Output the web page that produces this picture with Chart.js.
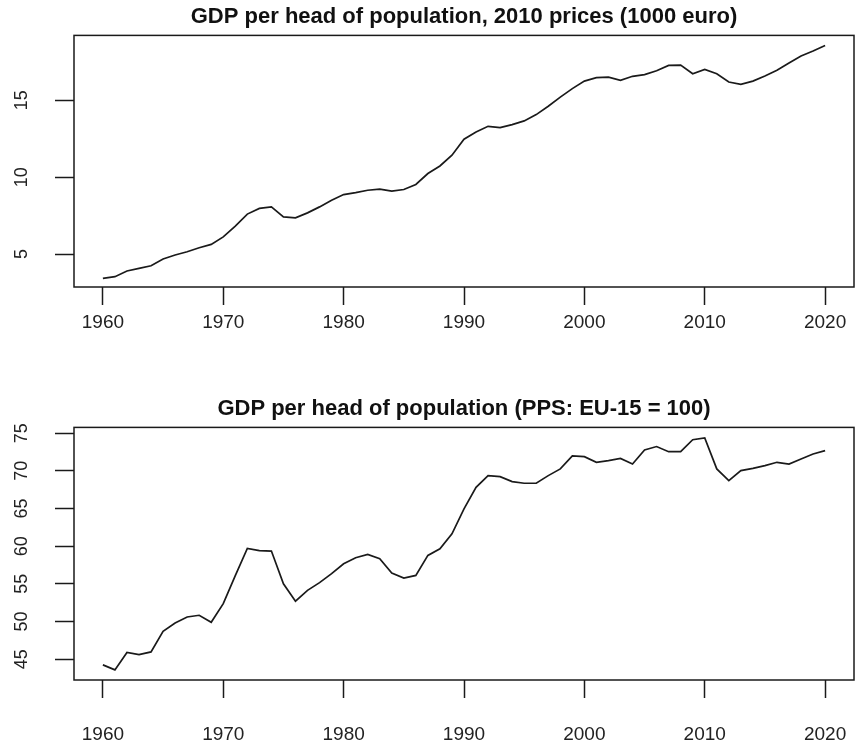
<!DOCTYPE html>
<html>
<head>
<meta charset="utf-8">
<script src="https://cdn.jsdelivr.net/npm/chart.js@4"></script>
<style>
	html, body { margin: 0; background: #fff; overflow: hidden; }
	.panel { position: absolute; left: 0; width: 855px; }
	.panel canvas { display: block; }
	#top-panel { top: 0; height: 370px; }
	#bottom-panel { top: 370px; height: 379px; }
</style>
</head>
<body>
<div class="panel" id="top-panel"><canvas id="gdp-euro"></canvas></div>
<div class="panel" id="bottom-panel"><canvas id="gdp-pps"></canvas></div>
<script>
const years = [
	1960, 1961, 1962, 1963, 1964, 1965, 1966, 1967, 1968, 1969,
	1970, 1971, 1972, 1973, 1974, 1975, 1976, 1977, 1978, 1979,
	1980, 1981, 1982, 1983, 1984, 1985, 1986, 1987, 1988, 1989,
	1990, 1991, 1992, 1993, 1994, 1995, 1996, 1997, 1998, 1999,
	2000, 2001, 2002, 2003, 2004, 2005, 2006, 2007, 2008, 2009,
	2010, 2011, 2012, 2013, 2014, 2015, 2016, 2017, 2018, 2019,
	2020,
];

// GDP per head, 2010 prices (1000 euro)
const gdpEuro = [
	3.42, 3.53, 3.9, 4.07, 4.24, 4.68, 4.94, 5.15, 5.41, 5.63,
	6.12, 6.82, 7.6, 7.97, 8.07, 7.42, 7.36, 7.68, 8.07, 8.5,
	8.87, 9.0, 9.15, 9.22, 9.09, 9.2, 9.53, 10.24, 10.73, 11.43,
	12.47, 12.94, 13.31, 13.23, 13.42, 13.66, 14.07, 14.61, 15.21, 15.76,
	16.25, 16.47, 16.51, 16.3, 16.56, 16.67, 16.92, 17.27, 17.29, 16.73,
	17.01, 16.73, 16.19, 16.04, 16.25, 16.58, 16.95, 17.42, 17.88, 18.2,
	18.57,
];

// GDP per head in PPS, EU-15 = 100
const gdpPps = [
	44.25, 43.58, 45.9, 45.62, 45.97, 48.7, 49.8, 50.6, 50.83, 49.9,
	52.37, 56.1, 59.7, 59.4, 59.35, 55.0, 52.7, 54.14, 55.16, 56.35,
	57.67, 58.46, 58.9, 58.33, 56.43, 55.77, 56.12, 58.77, 59.65, 61.64,
	64.95, 67.8, 69.36, 69.23, 68.57, 68.35, 68.35, 69.36, 70.25, 71.97,
	71.88, 71.13, 71.35, 71.65, 70.9, 72.77, 73.22, 72.54, 72.54, 74.13,
	74.35, 70.25, 68.7, 70.03, 70.33, 70.68, 71.13, 70.9, 71.57, 72.23,
	72.67,
];

const yearTicks = [1960, 1970, 1980, 1990, 2000, 2010, 2020];
const euroTicks = [5, 10, 15];
const ppsTicks = [45, 50, 55, 60, 65, 70, 75];

const ink = "#1a1a1a";
const fontFamily = "'Liberation Sans', Arial, Helvetica, sans-serif";

// draws the closed box round the plot area like R does
const boxPlugin = {
	id: "box",
	afterDraw: (chart) => {
		const { ctx, chartArea } = chart;
		ctx.save();
		ctx.strokeStyle = ink;
		ctx.lineWidth = 1.5;
		ctx.strokeRect(chartArea.left, chartArea.top, chartArea.right - chartArea.left, chartArea.bottom - chartArea.top);
		ctx.restore();
	},
};

const buildChart = (canvasId, opts) => {
	const canvas = document.getElementById(canvasId);
	new Chart(canvas, {
		type: "line",
		data: {
			datasets: [
				{
					data: years.map((year, i) => ({ x: year, y: opts.values[i] })),
					borderColor: ink,
					borderWidth: 1.7,
					pointRadius: 0,
					fill: false,
					tension: 0,
				},
			],
		},
		plugins: [boxPlugin],
		options: {
			responsive: true,
			maintainAspectRatio: false,
			animation: false,
			layout: { padding: { left: 0, right: 1, top: 0, bottom: 0 } },
			plugins: {
				legend: { display: false },
				tooltip: { enabled: false },
				title: {
					display: true,
					// centre the title over the plot box, not the whole canvas
					fullSize: false,
					text: opts.title,
					color: "#111",
					font: { family: fontFamily, size: 22, weight: "bold", lineHeight: 1.2 },
					padding: opts.titlePadding,
				},
			},
			scales: {
				x: {
					type: "linear",
					min: 1957.6,
					max: 2022.4,
					afterBuildTicks: (scale) => {
						scale.ticks = yearTicks.map((v) => ({ value: v }));
					},
					afterFit: (scale) => {
						scale.height = opts.xAxisHeight;
						// labels fit inside the box, so no extra side room is needed
						scale.paddingLeft = 0;
						scale.paddingRight = 0;
					},
					grid: { drawOnChartArea: false, tickLength: 18, tickWidth: 1.5, tickColor: ink },
					border: { display: false },
					ticks: {
						color: "#222",
						font: { family: fontFamily, size: 19 },
						padding: opts.xLabelPadding,
						maxRotation: 0,
						callback: (value) => String(value),
					},
				},
				y: {
					type: "linear",
					min: opts.yMin,
					max: opts.yMax,
					afterBuildTicks: (scale) => {
						scale.ticks = opts.yTicks.map((v) => ({ value: v }));
					},
					afterFit: (scale) => {
						scale.width = 74;
					},
					grid: { drawOnChartArea: false, tickLength: 19, tickWidth: 1.5, tickColor: ink },
					border: { display: false },
					ticks: {
						color: "#222",
						font: { family: fontFamily, size: 18 },
						padding: 23,
						crossAlign: "center",
						minRotation: 90,
						maxRotation: 90,
						callback: (value) => String(value),
					},
				},
			},
		},
	});
};

buildChart("gdp-euro", {
	title: "GDP per head of population, 2010 prices (1000 euro)",
	values: gdpEuro,
	yTicks: euroTicks,
	yMin: 2.86,
	yMax: 19.22,
	titlePadding: { top: 4, bottom: 5 },
	xAxisHeight: 83,
	xLabelPadding: 6,
});

buildChart("gdp-pps", {
	title: "GDP per head of population (PPS: EU-15 = 100)",
	values: gdpPps,
	yTicks: ppsTicks,
	yMin: 42.24,
	yMax: 75.76,
	titlePadding: { top: 26, bottom: 5 },
	xAxisHeight: 69,
	xLabelPadding: 25,
});
</script>
</body>
</html>
